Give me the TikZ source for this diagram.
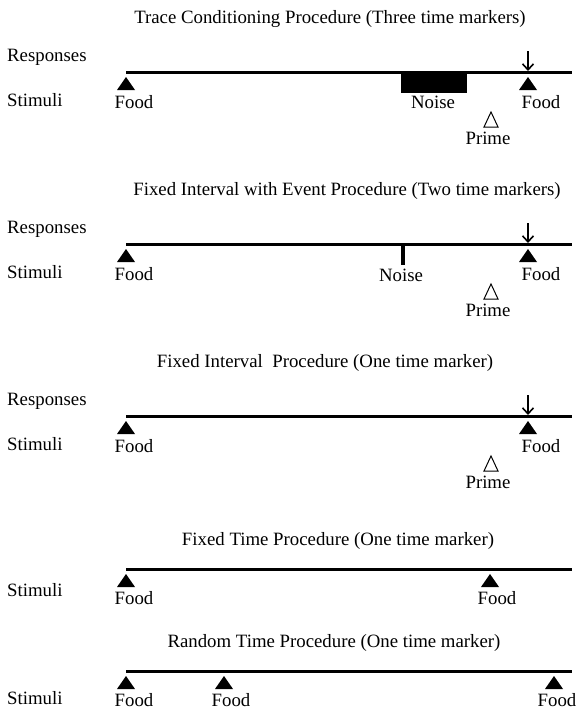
\documentclass[tikz,border=0pt]{standalone}
\usepackage{fontspec}
\setmainfont{Liberation Serif}
\usetikzlibrary{arrows.meta}

\tikzset{
  timeline/.style={line width=3pt},
  lbl/.style={font=\fontsize{18.8}{22}\selectfont, inner sep=0pt, anchor=mid},
  rowlbl/.style={lbl, anchor=mid west},
  resparrow/.style={line width=1.6pt, -{Straight Barb[length=6pt,width=11pt,line width=1.6pt]}},
  foodmark/.pic={\fill (-9,18) -- (0,5) -- (9,18) -- cycle;},
  primemark/.pic={\draw[line width=1pt] (-7,55) -- (0,40) -- (7,55) -- cycle;}
}

\begin{document}
\begin{tikzpicture}[x=1pt,y=-1pt]
    \useasboundingbox (0,0) rectangle (580,715);
    % Trace conditioning
    \node[lbl] (t1) at (330,21) {Trace Conditioning Procedure (Three time markers)};
    \node[rowlbl] (r1) at (7,59) {Responses};
    \node[rowlbl] (s1) at (7,104) {Stimuli};
    \coordinate (a1) at (126,72); \coordinate (b1) at (572,72);
    \draw[timeline] (a1) -- (b1);
    \fill (401,72) rectangle (467,93); % noise
    \pic at (126,72) {foodmark}; \pic at (528,72) {foodmark};
    \pic at (491,72) {primemark};
    \coordinate (u1) at (528,51); \coordinate (k1) at (528,71);
    \draw[resparrow] (u1) -- (k1);
    \node[lbl] (f1a) at (134,106) {Food};
    \node[lbl] (n1) at (433,106) {Noise};
    \node[lbl] (f1b) at (541,106) {Food};
    \node[lbl] (p1) at (488,142) {Prime};

    % Fixed interval with event
    \node[lbl] (t2) at (347,193) {Fixed Interval with Event Procedure (Two time markers)};
    \node[rowlbl] (r2) at (7,231) {Responses};
    \node[rowlbl] (s2) at (7,276) {Stimuli};
    \coordinate (a2) at (126,244); \coordinate (b2) at (572,244);
    \draw[timeline] (a2) -- (b2);
    \fill (401,244) rectangle (405,265); % noise
    \pic at (126,244) {foodmark}; \pic at (528,244) {foodmark};
    \pic at (491,244) {primemark};
    \coordinate (u2) at (528,223); \coordinate (k2) at (528,243);
    \draw[resparrow] (u2) -- (k2);
    \node[lbl] (f2a) at (134,278) {Food};
    \node[lbl] (n2) at (401,279) {Noise};
    \node[lbl] (f2b) at (541,278) {Food};
    \node[lbl] (p2) at (488,314) {Prime};

    % Fixed interval
    \node[lbl] (t3) at (325,365) {Fixed Interval\ \ Procedure (One time marker)};
    \node[rowlbl] (r3) at (7,403) {Responses};
    \node[rowlbl] (s3) at (7,448) {Stimuli};
    \coordinate (a3) at (126,416); \coordinate (b3) at (572,416);
    \draw[timeline] (a3) -- (b3);
    \pic at (126,416) {foodmark}; \pic at (528,416) {foodmark};
    \pic at (491,416) {primemark};
    \coordinate (u3) at (528,395); \coordinate (k3) at (528,415);
    \draw[resparrow] (u3) -- (k3);
    \node[lbl] (f3a) at (134,450) {Food};
    \node[lbl] (f3b) at (541,450) {Food};
    \node[lbl] (p3) at (488,486) {Prime};

    % Fixed time
    \node[lbl] (t4) at (338,543) {Fixed Time Procedure (One time marker)};
    \node[rowlbl] (s4) at (7,594) {Stimuli};
    \coordinate (a4) at (126,569); \coordinate (b4) at (572,569);
    \draw[timeline] (a4) -- (b4);
    \pic at (126,569) {foodmark}; \pic at (490,569) {foodmark};
    \node[lbl] (f4a) at (134,602) {Food};
    \node[lbl] (f4b) at (497,602) {Food};

    % Random time
    \node[lbl] (t5) at (334,645) {Random Time Procedure (One time marker)};
    \node[rowlbl] (s5) at (7,702) {Stimuli};
    \coordinate (a5) at (126,671); \coordinate (b5) at (572,671);
    \draw[timeline] (a5) -- (b5);
    \pic at (126,671) {foodmark}; \pic at (224,671) {foodmark};
    \pic at (554,671) {foodmark};
    \node[lbl] (f5a) at (134,704) {Food};
    \node[lbl] (f5b) at (231,704) {Food};
    \node[lbl] (f5c) at (557,704) {Food};
\end{tikzpicture}
\end{document}
